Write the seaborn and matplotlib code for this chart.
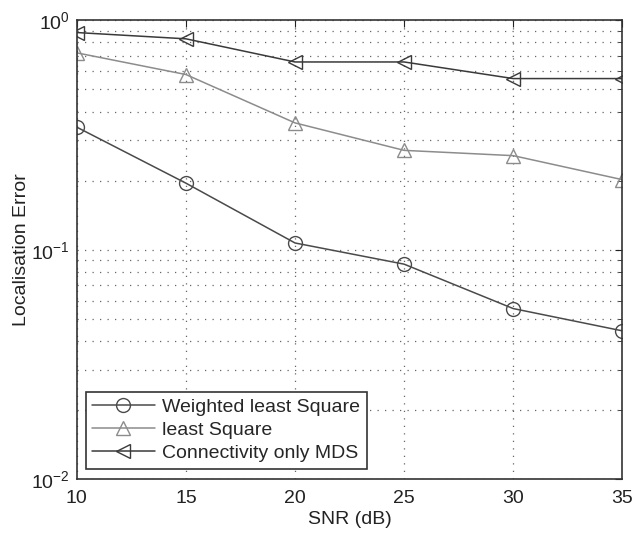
import matplotlib
matplotlib.use("Agg")
import matplotlib.pyplot as plt
import seaborn as sns
import pandas as pd
import numpy as np
from matplotlib.ticker import LogLocator, NullFormatter

snr = [10, 15, 20, 25, 30, 35]
weighted_ls = [0.342, 0.195, 0.107, 0.0865, 0.0554, 0.0443]
least_sq = [0.721, 0.58, 0.357, 0.271, 0.257, 0.202]
conn_mds = [0.884, 0.83, 0.658, 0.658, 0.557, 0.557]
labels = ["Weighted least Square", "least Square", "Connectivity only MDS"]
colors = ["#4a4a4a", "#8c8c8c", "#3a3a3a"]
markers = ["o", "^", "<"]

sns.set_style("white")
plt.rcParams["font.family"] = ["Liberation Sans", "DejaVu Sans"]
plt.rcParams["mathtext.fontset"] = "custom"
plt.rcParams["mathtext.rm"] = "Liberation Sans"
plt.rcParams["mathtext.it"] = "Liberation Sans"

fig = plt.figure(figsize=(6.35, 5.33), dpi=100)
ax = fig.add_axes([0.121, 0.101, 0.859, 0.861])

for vals, lab, col, mk in zip([weighted_ls, least_sq, conn_mds], labels, colors, markers):
    df = pd.DataFrame({"SNR": snr, "err": vals})
    sns.lineplot(data=df, x="SNR", y="err", ax=ax, color=col, marker=mk,
                 markersize=10, markerfacecolor="none", markeredgecolor=col,
                 markeredgewidth=1.0, linewidth=1.1, label=lab)

ax.set_yscale("log")
ax.set_xlim(10, 35)
ax.set_ylim(1e-2, 1e0)
ax.set_xticks([10, 15, 20, 25, 30, 35])
ax.yaxis.set_major_locator(LogLocator(base=10, numticks=10))
ax.yaxis.set_minor_locator(LogLocator(base=10, subs=np.arange(2, 10), numticks=20))
ax.yaxis.set_minor_formatter(NullFormatter())

gls = (0, (1, 5))
ax.grid(True, which="major", axis="both", linestyle=gls, color="#666666", linewidth=0.9)
ax.grid(True, which="minor", axis="y", linestyle=gls, color="#666666", linewidth=0.9)

ax.tick_params(axis="both", which="both", direction="in", top=True, right=True,
               labelsize=14, colors="#222222")
ax.tick_params(axis="x", which="major", pad=8)
ax.tick_params(axis="y", which="major", pad=5)
ax.tick_params(which="major", length=5)
ax.tick_params(which="minor", length=3)
for s in ax.spines.values():
    s.set_color("#333333")
    s.set_linewidth(1.2)

ax.set_xlabel("SNR (dB)", fontsize=14, color="#222222", labelpad=3)
ax.set_ylabel("Localisation Error", fontsize=14, color="#222222", labelpad=1)

leg = ax.legend(loc="lower left", fontsize=14, frameon=True, fancybox=False,
                edgecolor="#333333", handlelength=3.2, handletextpad=0.4,
                borderpad=0.35, labelspacing=0.28, borderaxespad=0,
                bbox_to_anchor=(0.016, 0.022))
leg.get_frame().set_linewidth(1.2)
leg.get_frame().set_alpha(1)

fig.savefig("out.png", dpi=100)
